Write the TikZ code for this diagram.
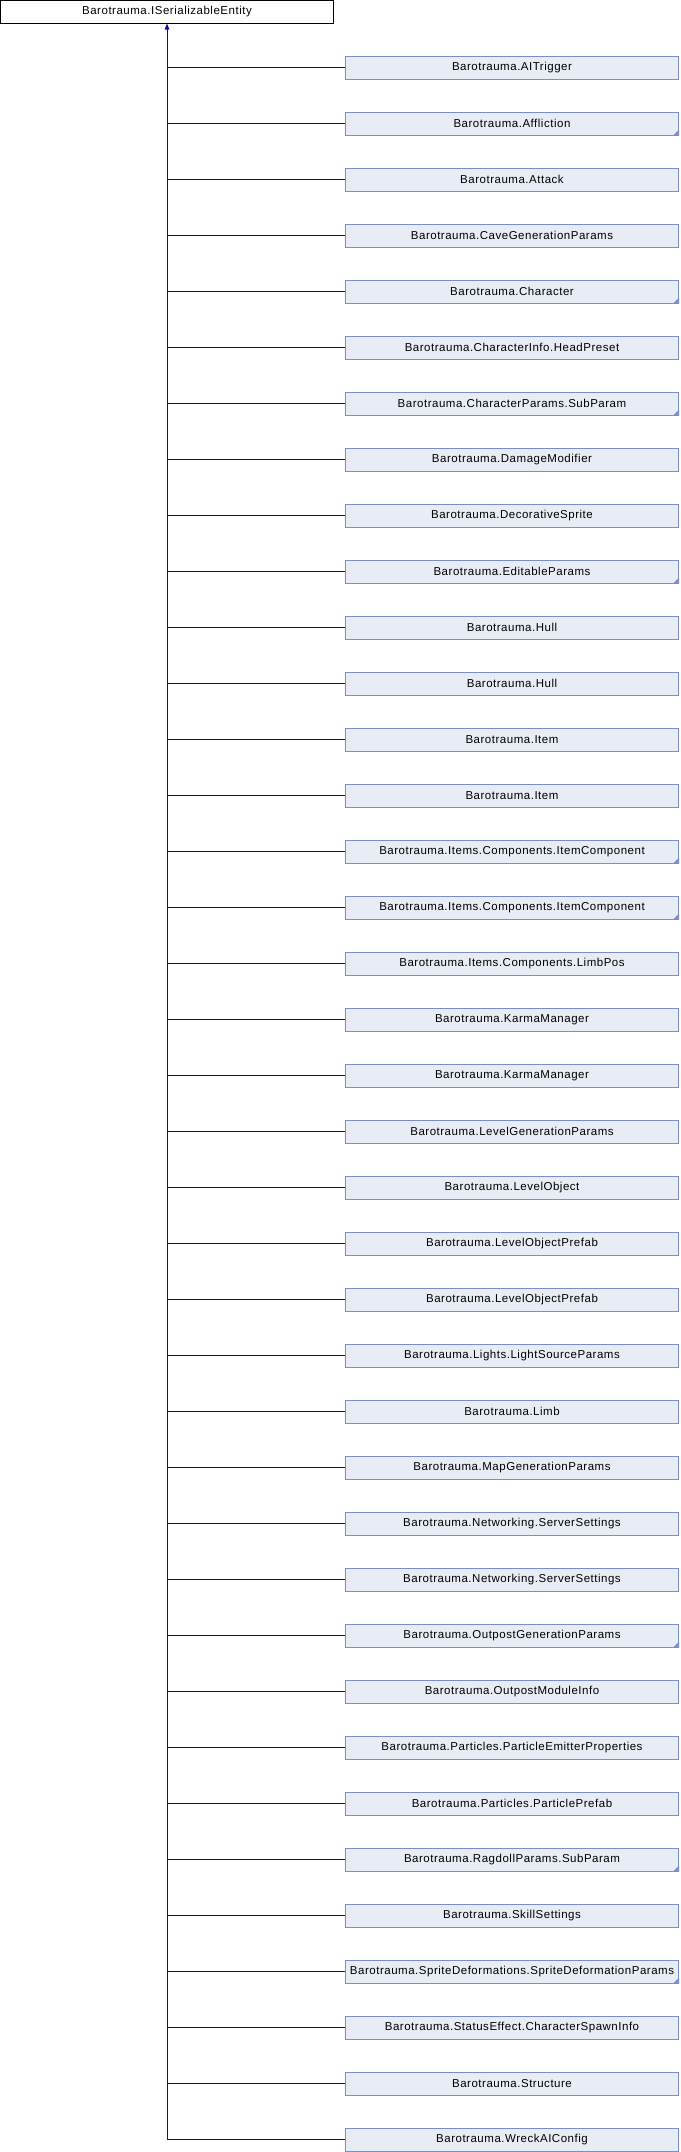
\documentclass[tikz,border=0pt]{standalone}
\usepackage{fontspec}
\setmainfont{Liberation Sans}[LetterSpace=4.5]
\usetikzlibrary{arrows.meta}
\definecolor{edgecol}{RGB}{12,12,160}
\definecolor{boxfill}{RGB}{232,236,245}
\definecolor{boxdraw}{RGB}{122,142,204}
\begin{document}
\begin{tikzpicture}[x=1pt,y=-1pt,
  base/.style={draw=black,fill=white,line width=1pt,minimum width=333pt,minimum height=22.5pt,inner sep=0pt,font=\fontsize{11.5}{13}\selectfont},
  childbox/.style={draw=boxdraw,fill=boxfill,line width=1pt,minimum width=333pt,minimum height=22.5pt,inner sep=0pt,font=\fontsize{11.5}{13}\selectfont},
  edge/.style={draw=edgecol,line width=1pt},
  fold/.style={fill=boxdraw}]
\useasboundingbox (0,0) rectangle (680,2152);
\node[base] (top) at (167,11.75) {Barotrauma.ISerializableEntity};
\foreach \nm/\fl [count=\i] in {
AITrigger/0, Affliction/1, Attack/0, CaveGenerationParams/0, Character/1,
CharacterInfo.HeadPreset/0, CharacterParams.SubParam/1, DamageModifier/0,
DecorativeSprite/0, EditableParams/1, Hull/0, Hull/0, Item/0, Item/0,
Items.Components.ItemComponent/1, Items.Components.ItemComponent/1,
Items.Components.LimbPos/0, KarmaManager/0, KarmaManager/0,
LevelGenerationParams/0, LevelObject/0, LevelObjectPrefab/0, LevelObjectPrefab/0,
Lights.LightSourceParams/0, Limb/0, MapGenerationParams/0,
Networking.ServerSettings/0, Networking.ServerSettings/0,
OutpostGenerationParams/1, OutpostModuleInfo/0,
Particles.ParticleEmitterProperties/0, Particles.ParticlePrefab/0,
RagdollParams.SubParam/1, SkillSettings/0,
SpriteDeformations.SpriteDeformationParams/1,
StatusEffect.CharacterSpawnInfo/0, Structure/0, WreckAIConfig/0} {
  \node[childbox] (c\i) at (512,{67.75+56*(\i-1)}) {Barotrauma.\nm};
  \ifnum\fl=1
    \fill[fold] (c\i.south east) ++(-6,0) -- (c\i.south east) -- ++(0,-6) -- cycle;
  \fi
  \draw[edge] (c\i.west -| top.south) -- (c\i.west);
}
\draw[edge,-{Triangle[length=6pt,width=4.5pt]}] (c38.west -| top.south) -- (top.south);
\end{tikzpicture}
\end{document}
